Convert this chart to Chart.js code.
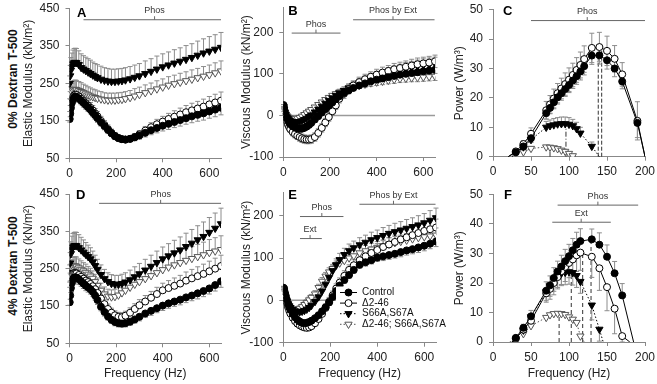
<!DOCTYPE html>
<html>
<head>
<meta charset="utf-8">
<script src="https://cdn.jsdelivr.net/npm/chart.js"></script>
<style>
  body { margin: 0; background: #fff; width: 657px; height: 384px; overflow: hidden; position: relative; }
  canvas { position: absolute; }
  .row { position: absolute; font: bold 12px "Liberation Sans", Arial, sans-serif; color: #111;
         white-space: nowrap; transform: translate(-50%, -50%) rotate(-90deg); }
</style>
</head>
<body>
<div class="row" style="left:13px;top:79px">0% Dextran T-500</div>
<div class="row" style="left:13px;top:266px">4% Dextran T-500</div>
<canvas id="pA" width="232" height="185" style="left:0;top:0"></canvas>
<canvas id="pB" width="212" height="185" style="left:232px;top:0"></canvas>
<canvas id="pC" width="213" height="185" style="left:444px;top:0"></canvas>
<canvas id="pD" width="232" height="199" style="left:0;top:185px"></canvas>
<canvas id="pE" width="232" height="199" style="left:232px;top:185px"></canvas>
<canvas id="pF" width="213" height="199" style="left:444px;top:185px"></canvas>
<script>
const FONT = '"Liberation Sans", Arial, sans-serif';
const seriesNames = ['Control', 'Δ2-46', 'S66A,S67A', 'Δ2-46; S66A,S67A'];

// frequencies shared by the modulus panels (A, B, D, E)
const freqs = [1,3,6,10,15,20,25,30, 40,50,60,70,80,90,100,110,120, 135,150,165,180,195,210,225,240, 260,280,300,
  325,350,375,400,425,450,475,500,525,550,575,600,625,650];

// A: elastic modulus, 0% dextran
const A_ctrl  = [155,170,185,198,207,212,215,214, 210,204,198,192,186,180,172,165,157, 146,136,126,117,109,104,101,100, 102,106,111, 118,125,131,137,142,147,152,157,162,166,170,175,180,185];
const A_d246  = [165,180,195,205,213,218,220,219, 215,209,203,197,191,185,178,170,162, 150,139,128,118,110,104,101,100, 102,107,114, 124,133,141,148,155,161,167,173,178,183,188,194,199,204];
const A_s66   = [250,270,285,295,302,305,306,305, 300,292,288,284,280,276,272,268,265, 261,258,256,255,255,256,257,259, 262,266,270, 276,282,288,294,299,304,309,314,319,325,331,336,341,346];
const A_dboth = [195,210,220,227,231,233,234,233, 231,228,225,222,219,216,214,212,210, 208,206,205,205,205,206,207,209, 212,216,220, 225,230,235,240,245,249,253,257,261,265,269,273,278,283];
const A_ctrl_err  = [8,9,10,10,10,11,11,11, 11,11,11,11,11,11,11,11,11, 10,10,10,9,9,8,8,8, 8,9,10, 11,12,13,14,15,15,16,16,17,17,18,18,19,19];
const A_d246_err  = [10,11,12,13,13,14,14,14, 14,14,14,14,14,14,13,13,13, 12,12,11,10,9,8,8,8, 8,9,10, 11,12,13,14,15,16,17,18,19,19,20,21,22,23];
const A_s66_err   = [20,28,34,36,37,38,38,38, 37,37,36,36,36,36,35,35,35, 35,34,34,33,33,33,33,33, 33,33,33, 34,34,35,35,35,36,36,37,37,38,38,39,39,40];
const A_dboth_err = [14,18,21,23,24,25,25,25, 24,24,23,23,22,22,21,21,20, 20,19,19,19,19,19,19,19, 19,20,20, 21,21,22,22,23,23,24,24,25,25,26,26,27,27];

// B: viscous modulus, 0% dextran
const B_ctrl  = [25,18,10,2,-6,-12,-17,-21, -26,-29,-31,-32,-32,-30,-27,-23,-18, -10,-2,7,15,23,31,39,46, 54,60,66, 72,77,82,86,89,92,95,98,100,102,104,106,108,110];
const B_d246  = [22,15,6,-4,-14,-22,-28,-33, -40,-45,-49,-52,-55,-57,-58,-58,-57, -52,-42,-30,-17,-4,10,24,40, 52,63,72, 80,87,93,98,103,107,111,114,117,120,123,125,127,130];
const B_s66   = [22,15,8,2,-4,-8,-11,-13, -15,-16,-16,-15,-13,-10,-7,-3,1, 8,15,22,29,36,42,48,54, 60,66,72, 78,84,89,94,98,102,106,110,113,116,119,121,123,125];
const B_dboth = [20,14,8,3,-1,-4,-6,-7, -8,-8,-7,-5,-2,2,6,10,14, 20,26,32,38,43,48,52,56, 60,64,68, 72,75,78,80,82,84,86,88,89,90,91,92,93,94];
const B_ctrl_err  = [4,4,5,5,5,5,5,5, 5,5,5,5,5,5,5,5,5, 5,5,5,5,5,5,5,5, 6,6,6, 6,7,7,7,7,8,8,8,8,9,9,9,9,9];
const B_d246_err  = [4,5,6,6,7,8,8,8, 9,9,9,10,10,10,10,10,10, 10,10,10,10,10,10,10,10, 11,11,11, 12,12,12,13,13,13,14,14,14,15,15,15,15,15];
const B_s66_err   = [4,5,6,6,7,7,7,7, 7,7,7,7,7,7,7,7,7, 7,8,8,8,8,8,9,9, 9,10,10, 11,11,12,12,12,13,13,13,14,14,14,15,15,15];
const B_dboth_err = [4,5,5,5,5,5,5,5, 5,5,5,5,5,5,5,5,5, 5,6,6,6,6,6,6,6, 7,7,7, 7,8,8,8,8,8,9,9,9,9,10,10,10,10];

// D: elastic modulus, 4% dextran
const D_ctrl  = [160,178,198,212,222,226,227,226, 222,216,210,204,200,195,188,178,166, 148,134,122,113,107,104,103,104, 108,114,121, 130,137,144,151,157,162,167,173,178,184,190,197,206,216];
const D_d246  = [190,205,220,230,236,238,238,237, 233,228,223,218,214,209,203,195,185, 170,155,142,132,125,121,120,124, 132,142,152, 162,172,182,192,198,204,210,218,224,230,236,243,250,257];
const D_s66   = [240,265,290,302,308,311,312,311, 306,300,294,288,282,276,268,258,248, 234,223,215,210,208,208,210,214, 220,228,236, 246,256,266,276,284,292,300,309,318,327,336,347,358,370];
const D_dboth = [200,220,240,250,255,257,257,256, 252,248,244,240,235,230,224,215,205, 192,182,176,174,175,179,185,192, 200,208,215, 223,231,239,247,254,260,266,272,277,282,287,293,297,301];
const D_ctrl_err  = [8,10,12,13,14,14,14,14, 14,13,13,13,13,13,12,12,12, 11,11,10,10,10,10,10,10, 10,10,11, 11,12,12,13,13,13,14,14,14,15,15,15,16,16];
const D_d246_err  = [10,12,14,15,16,16,16,16, 16,15,15,15,15,15,15,15,14, 14,13,13,12,12,12,12,12, 13,14,15, 16,17,18,19,20,21,22,23,24,25,26,27,28,29];
const D_s66_err   = [20,28,32,35,36,36,36,36, 35,34,33,32,31,30,29,28,27, 26,25,24,24,24,24,25,25, 26,27,28, 29,30,31,32,33,34,35,36,37,38,39,40,41,42];
const D_dboth_err = [14,18,22,24,25,25,25,25, 24,23,22,22,21,21,20,20,20, 19,19,19,19,20,20,20,21, 21,22,23, 24,25,26,27,28,29,30,31,32,33,34,35,36,37];

// E: viscous modulus, 4% dextran
const E_ctrl  = [30,27,20,12,2,-8,-16,-22, -32,-40,-46,-50,-53,-54,-53,-51,-48, -42,-35,-26,-16,-5,8,22,35, 48,60,72, 84,90,95,101,104,107,110,114,118,121,125,129,134,139];
const E_d246  = [28,24,16,6,-6,-16,-24,-31, -41,-49,-55,-59,-62,-64,-65,-64,-61, -54,-44,-32,-18,-3,12,28,42, 58,72,83, 95,104,112,119,126,132,138,144,149,154,159,164,168,172];
const E_s66   = [28,22,14,6,-2,-8,-13,-17, -22,-25,-27,-27,-26,-24,-21,-17,-12, -3,8,22,38,54,70,84,96, 108,117,124, 131,137,143,148,153,158,162,166,170,174,178,183,189,195];
const E_dboth = [26,20,12,4,-4,-10,-14,-17, -21,-22,-21,-19,-15,-10,-5,1,7, 15,30,45,57,67,75,82,88, 94,100,105, 112,117,121,125,129,133,136,139,142,145,148,150,152,154];
const E_ctrl_err  = [5,5,6,6,6,6,6,6, 6,6,6,6,6,6,6,6,6, 6,6,6,6,6,7,7,7, 7,8,8, 8,9,9,9,10,10,10,11,11,11,12,12,12,12];
const E_d246_err  = [5,5,6,6,7,7,8,8, 8,8,8,8,8,8,8,8,8, 8,9,9,9,10,10,11,11, 12,12,13, 13,14,14,15,15,16,16,17,17,18,18,19,19,20];
const E_s66_err   = [5,5,6,6,6,7,7,7, 7,7,7,7,7,7,7,7,8, 8,9,10,11,12,13,14,15, 15,16,16, 17,17,18,18,19,19,20,20,21,21,22,22,23,23];
const E_dboth_err = [5,5,5,5,6,6,6,6, 6,6,6,6,6,6,7,7,7, 8,8,9,9,10,10,11,11, 12,12,13, 13,13,14,14,14,15,15,15,16,16,16,17,17,17];

// C: power, 0% dextran
const C_f       = [20,30,40,50,70,75,80,85,90,95,100,105,110,115,120,130,140,150,160,170,190,200];
const C_ctrl    = [0,1.5,3.5,6.3,14.8,16.6,18.5,20.2,21.6,23,24.4,25.9,27.4,29,30.8,34.4,34.5,32.8,30,25.6,11.5,0];
const C_d246    = [0,1.8,4.3,7.8,15.8,17.8,19.8,21.6,23.2,24.7,26.2,27.8,29.5,31.2,33.2,37,37.3,36,33.3,28,12.2,0];
const C_ctrl_err = [0,0.5,1,1.5,2,2,2.2,2.3,2.4,2.5,2.6,2.7,2.8,2.9,3,3,3,3,2.8,2.5,5,0];
const C_d246_err = [0,0.8,1.2,2,3,3,3.2,3.3,3.5,3.8,4,4,4.2,4.4,4.5,5,5,5,4.5,4,6.5,0];
const C_s66_f   = [25,40,50,70,75,80,85,90,95,100,105,110,115,130,140];
const C_s66     = [0,3.3,5.8,10,10.5,10.8,11.1,11.2,11.2,11,10.5,9.5,8,3.5,0];
const C_s66_err = [0,1,1.2,2,2,2.2,2.2,2.3,2.3,2.3,2.2,2.2,2,1.5,0];
const C_dboth_f = [25,30,40,50,70,75,80,85,90,95,100,105,110];
const C_dboth   = [0,1.2,1.6,2.8,3.3,3.2,3,2.7,2.2,1.8,1.1,0.3,0];
const C_peak_f  = [138.5, 143, 96, 75];
const C_peak_p  = [34.5, 37.3, 11.2, 3.3];

// F: power, 4% dextran
const F_ctrl_f  = [25,30,40,50,70,75,80,85,90,95,100,105,110,115,130,140,150,160,170,185];
const F_ctrl    = [0,1.4,4.8,8.7,17.4,19.2,21.7,23.9,25.6,27.4,29.1,31.1,33,34.2,34.8,33,28.9,23.3,15.8,0];
const F_ctrl_err = [0,0.8,1.2,2,3,3.2,3.5,3.5,3.8,4,4,4,4.2,4.2,3.5,4,4,4,4,0];
const F_d246_f  = [25,30,40,50,70,75,80,85,90,95,100,105,110,115,130,140,150,160,170,180];
const F_d246    = [0,1.1,4.2,7.2,16.5,18,20,22,24,25.5,26.8,28,29.4,30.3,28.9,25,18.6,11.3,2,0];
const F_d246_err = [0,0.8,1.2,2,3,3.5,4,4,4.5,5,5,5.5,5.5,6,7,7.5,8,8.5,2,0];
const F_s66_f   = [25,40,50,70,75,80,85,90,95,100,105,110,115,130,140,145];
const F_s66     = [0,4,8.5,17,19,21,22.5,23.3,23.6,23.8,23.5,22.5,20.5,12.5,4.3,0];
const F_s66_err = [0,1,1.5,3,3.5,3.8,4,4.2,4.2,4.2,4.2,4,4,5,4,0];
const F_dboth_f = [22,30,40,50,70,75,80,85,90,95,100,105,110,115,120];
const F_dboth   = [0,0.6,2.8,5.5,8.3,9.2,9.6,9.7,9.6,9.3,8.5,7.7,6.6,2,0];
const F_peak_f  = [129, 118, 103, 87];
const F_peak_p  = [34.8, 30.3, 23.8, 9.7];

// significance brackets (data units)
const bracketsA = [{ text: 'Phos', from: 60, to: 650, at: 420, tick: 365 }];
const bracketsB = [{ text: 'Phos', from: 36, to: 245, at: 198, tick: 140 },
                   { text: 'Phos by Ext', from: 299, to: 648, at: 230, tick: 470 }];
const bracketsC = [{ text: 'Phos', from: 50, to: 200, at: 46.3, tick: 124 }];
const bracketsD = [{ text: 'Phos', from: 127, to: 650, at: 425, tick: 391 }];
const bracketsE = [{ text: 'Phos by Ext', from: 324, to: 648, at: 227, tick: 469 },
                   { text: 'Phos', from: 71, to: 256, at: 198, tick: 164 },
                   { text: 'Ext', from: 71, to: 164, at: 146, tick: 114 }];
const bracketsF = [{ text: 'Phos', from: 85, to: 191, at: 46.4, tick: 138 },
                   { text: 'Ext', from: 78, to: 155, at: 40.6, tick: 116 }];

const looks = [
  { pointStyle: 'circle',   rotation: 0,   radius: 3.5, fill: '#000', stroke: '#000', line: '#000', dash: [] },
  { pointStyle: 'circle',   rotation: 0,   radius: 3.5, fill: '#fff', stroke: '#000', line: '#000', dash: [] },
  { pointStyle: 'triangle', rotation: 180, radius: 4.2, fill: '#000', stroke: '#000', line: '#000', dash: [1.5, 2] },
  { pointStyle: 'triangle', rotation: 180, radius: 4.2, fill: '#fff', stroke: '#555', line: '#555', dash: [1.5, 2] },
];

function drawMarker(ctx, lk, x, y) {
  if (Chart.helpers && Chart.helpers.drawPoint) {
    Chart.helpers.drawPoint(ctx, { pointStyle: lk.pointStyle, rotation: lk.rotation, radius: lk.radius, borderWidth: 1 }, x, y);
    return;
  }
  ctx.beginPath();
  if (lk.pointStyle === 'circle') ctx.arc(x, y, lk.radius, 0, Math.PI * 2);
  else { const r = lk.radius; ctx.moveTo(x - r * 0.87, y - r * 0.5); ctx.lineTo(x + r * 0.87, y - r * 0.5); ctx.lineTo(x, y + r); ctx.closePath(); }
  ctx.fill(); ctx.stroke();
}

function makeFig(o) {
  return {
    id: 'fig',
    beforeDatasetsDraw(chart) {
      const { ctx, chartArea: a, scales: { x, y } } = chart;
      ctx.save();
      if (o.zero) {
        ctx.strokeStyle = '#9a9a9a'; ctx.lineWidth = 1.5;
        const py = y.getPixelForValue(0);
        ctx.beginPath(); ctx.moveTo(a.left, py); ctx.lineTo(a.right, py); ctx.stroke();
      }
      if (o.peaks) {
        ctx.strokeStyle = '#333'; ctx.lineWidth = 1;
        o.peaks.f.forEach((f, i) => {
          ctx.setLineDash(o.peaks.dash[i]);
          const px = x.getPixelForValue(f);
          ctx.beginPath(); ctx.moveTo(px, y.getPixelForValue(0)); ctx.lineTo(px, y.getPixelForValue(o.peaks.p[i])); ctx.stroke();
        });
        ctx.setLineDash([]);
      }
      ctx.strokeStyle = '#8c8c8c'; ctx.lineWidth = 1;
      chart.data.datasets.forEach(ds => {
        if (!ds.err) return;
        ds.data.forEach((pt, i) => {
          const e = ds.err[i];
          if (!e) return;
          const px = x.getPixelForValue(pt.x);
          const lo = y.getPixelForValue(ds.errDir > 0 ? pt.y : pt.y - e);
          const hi = y.getPixelForValue(ds.errDir < 0 ? pt.y : pt.y + e);
          ctx.beginPath(); ctx.moveTo(px, lo); ctx.lineTo(px, hi);
          if (ds.errDir >= 0) { ctx.moveTo(px - 2.5, hi); ctx.lineTo(px + 2.5, hi); }
          if (ds.errDir <= 0) { ctx.moveTo(px - 2.5, lo); ctx.lineTo(px + 2.5, lo); }
          ctx.stroke();
        });
      });
      ctx.restore();
    },
    afterDraw(chart) {
      const { ctx, chartArea: a, scales: { x, y } } = chart;
      ctx.save();
      ctx.strokeStyle = '#666'; ctx.fillStyle = '#333'; ctx.lineWidth = 1;
      ctx.font = '9px ' + FONT; ctx.textAlign = 'center'; ctx.textBaseline = 'middle';
      o.brackets.forEach(b => {
        const py = y.getPixelForValue(b.at), tx = x.getPixelForValue(b.tick);
        ctx.beginPath();
        ctx.moveTo(x.getPixelForValue(b.from), py); ctx.lineTo(x.getPixelForValue(b.to), py);
        ctx.moveTo(tx, py); ctx.lineTo(tx, py - 3.5);
        ctx.stroke();
        ctx.fillText(b.text, tx, py - 9);
      });
      ctx.fillStyle = '#000'; ctx.font = 'bold 13px ' + FONT; ctx.textAlign = 'left';
      ctx.fillText(o.letter, a.left + o.letterAt[0], a.top + o.letterAt[1]);
      if (o.legend) {
        const L = o.legend;
        ctx.fillStyle = '#fff';
        ctx.fillRect(L.x - 4, L.y - 6, 140, L.dy * 4 + 2);
        seriesNames.forEach((name, i) => {
          const lk = looks[i], yy = L.y + i * L.dy;
          ctx.setLineDash(lk.dash); ctx.strokeStyle = lk.line;
          ctx.beginPath(); ctx.moveTo(L.x, yy); ctx.lineTo(L.x + L.len, yy); ctx.stroke();
          ctx.setLineDash([]);
          ctx.fillStyle = lk.fill; ctx.strokeStyle = lk.stroke; ctx.lineWidth = 1;
          drawMarker(ctx, lk, L.x + L.len / 2, yy);
          ctx.fillStyle = '#111'; ctx.font = '10px ' + FONT; ctx.textAlign = 'left'; ctx.textBaseline = 'middle';
          ctx.fillText(name, L.x + L.len + 5, yy);
        });
      }
      ctx.restore();
    },
  };
}

function panel(id, o) {
  const sets = o.ys.map((ys, i) => {
    const lk = looks[i];
    return {
      label: seriesNames[i],
      data: o.xs[i].map((f, j) => ({ x: f, y: ys[j] })),
      err: o.errs[i], errDir: o.dirs[i],
      borderColor: lk.line, borderWidth: 1, borderDash: lk.dash,
      pointStyle: lk.pointStyle, pointRotation: lk.rotation,
      pointRadius: o.hideZero ? (c => (c.raw && c.raw.y === 0 ? 0 : lk.radius)) : lk.radius,
      pointBackgroundColor: lk.fill, pointBorderColor: lk.stroke, pointBorderWidth: 1,
      backgroundColor: lk.fill, fill: false, tension: 0,
    };
  });
  const box = o.box;
  const axisGrid = { display: true, drawOnChartArea: false, drawTicks: true, tickLength: 4, color: '#888' };
  return new Chart(document.getElementById(id), {
    type: 'line',
    data: { datasets: sets },
    options: {
      responsive: false, animation: false, devicePixelRatio: 1,
      layout: { padding: { left: 0, top: box.t, right: box.w - box.r, bottom: 0 } },
      plugins: { legend: { display: false }, tooltip: { enabled: false } },
      scales: {
        x: {
          type: 'linear', min: 0, max: o.xMax,
          ticks: { stepSize: o.xStep, includeBounds: false, padding: 4, color: '#222', font: { family: FONT, size: 12 } },
          grid: axisGrid, border: { display: true, color: '#888' },
          title: { display: !!o.xTitle, text: o.xTitle || '', color: '#222', font: { family: FONT, size: 12 }, padding: { top: 0, bottom: 3 } },
          afterFit(s) { s.height = box.h - box.b; s.paddingLeft = 0; s.paddingRight = 0; },
        },
        y: {
          min: o.yMin, max: o.yMax,
          ticks: { stepSize: o.yStep, includeBounds: false, padding: 6, color: '#222', font: { family: FONT, size: 12 } },
          grid: axisGrid, border: { display: true, color: '#888' },
          title: { display: true, text: o.yTitle, color: '#222', font: { family: FONT, size: 12 }, padding: { top: o.yTitlePad, bottom: 0 } },
          afterFit(s) { s.width = box.l; s.paddingTop = 0; s.paddingBottom = 0; },
        },
      },
    },
    plugins: [makeFig(o)],
  });
}

const modX = [freqs, freqs, freqs, freqs];
const dashPeakC = [[4, 2], [4, 2], [5, 2, 1, 2], [5, 2, 1, 2]];
const dashPeakF = [[4, 3], [4, 3], [4, 3], [4, 3]];

panel('pA', {
  box: { w: 232, h: 185, l: 69.5, t: 8.5, r: 221, b: 158.3 },
  xs: modX, ys: [A_ctrl, A_d246, A_s66, A_dboth], errs: [A_ctrl_err, A_d246_err, A_s66_err, A_dboth_err], dirs: [-1, 1, 1, 1],
  xMax: 650, xStep: 200, yMin: 50, yMax: 450, yStep: 100,
  yTitle: 'Elastic Modulus (kN/m²)', yTitlePad: 21, letter: 'A', letterAt: [7.5, 5], brackets: bracketsA,
});
panel('pB', {
  box: { w: 212, h: 185, l: 51.3, t: 7.3, r: 203, b: 157 },
  xs: modX, ys: [B_ctrl, B_d246, B_s66, B_dboth], errs: [B_ctrl_err, B_d246_err, B_s66_err, B_dboth_err], dirs: [-1, 0, 1, -1],
  xMax: 650, xStep: 200, yMin: -100, yMax: 260, yStep: 100, zero: true,
  yTitle: 'Viscous Modulus (kN/m²)', yTitlePad: 7.5, letter: 'B', letterAt: [5, 4.4], brackets: bracketsB,
});
panel('pC', {
  box: { w: 213, h: 185, l: 49, t: 9.7, r: 201, b: 156.7 },
  xs: [C_f, C_f, C_s66_f, C_dboth_f], ys: [C_ctrl, C_d246, C_s66, C_dboth], errs: [C_ctrl_err, C_d246_err, C_s66_err, null], dirs: [-1, 0, 1, 0],
  xMax: 200, xStep: 50, yMin: 0, yMax: 50, yStep: 10, hideZero: true,
  peaks: { f: C_peak_f, p: C_peak_p, dash: dashPeakC },
  yTitle: 'Power (W/m³)', yTitlePad: 8, letter: 'C', letterAt: [10, 1.5], brackets: bracketsC,
});
panel('pD', {
  box: { w: 232, h: 199, l: 69.5, t: 9, r: 221, b: 158.3 },
  xs: modX, ys: [D_ctrl, D_d246, D_s66, D_dboth], errs: [D_ctrl_err, D_d246_err, D_s66_err, D_dboth_err], dirs: [-1, 1, 1, 1],
  xMax: 650, xStep: 200, yMin: 50, yMax: 450, yStep: 100, xTitle: 'Frequency (Hz)',
  yTitle: 'Elastic Modulus (kN/m²)', yTitlePad: 21, letter: 'D', letterAt: [6.5, 1.5], brackets: bracketsD,
});
panel('pE', {
  box: { w: 232, h: 199, l: 51.3, t: 7.4, r: 204, b: 157.7 },
  xs: modX, ys: [E_ctrl, E_d246, E_s66, E_dboth], errs: [E_ctrl_err, E_d246_err, E_s66_err, E_dboth_err], dirs: [-1, 1, 1, 1],
  xMax: 650, xStep: 200, yMin: -100, yMax: 255, yStep: 100, zero: true, xTitle: 'Frequency (Hz)',
  yTitle: 'Viscous Modulus (kN/m²)', yTitlePad: 7.5, letter: 'E', letterAt: [5, 2.6], brackets: bracketsE,
  legend: { x: 108, y: 107.5, dy: 10.6, len: 17 },
});
panel('pF', {
  box: { w: 213, h: 199, l: 49, t: 9.5, r: 201, b: 157 },
  xs: [F_ctrl_f, F_d246_f, F_s66_f, F_dboth_f], ys: [F_ctrl, F_d246, F_s66, F_dboth], errs: [F_ctrl_err, F_d246_err, F_s66_err, null], dirs: [1, -1, -1, 0],
  xMax: 200, xStep: 50, yMin: 0, yMax: 50, yStep: 10, hideZero: true, xTitle: 'Frequency (Hz)',
  peaks: { f: F_peak_f, p: F_peak_p, dash: dashPeakF },
  yTitle: 'Power (W/m³)', yTitlePad: 8, letter: 'F', letterAt: [11, 1], brackets: bracketsF,
});
</script>
</body>
</html>
